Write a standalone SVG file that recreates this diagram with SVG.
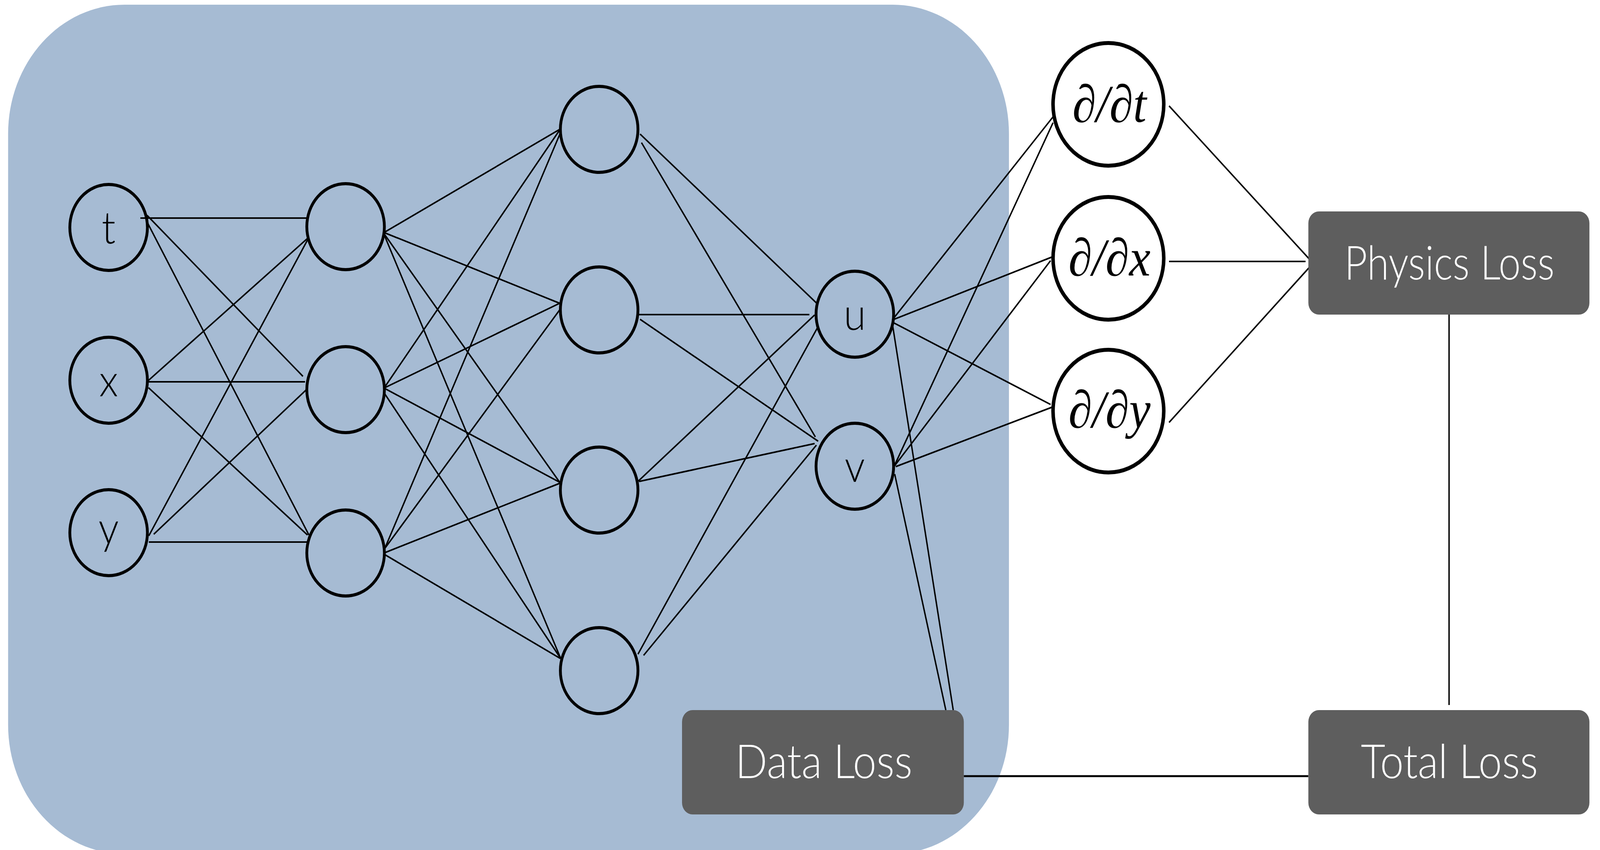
<svg xmlns="http://www.w3.org/2000/svg" width="4537" height="2175" viewBox="0 0 4537 2175" preserveAspectRatio="none">
<style>
svg{width:100vw;height:100vh;display:block}
.n{fill:none;stroke:#000;stroke-width:8}
.d{fill:#fff;stroke:#000;stroke-width:10}
.c line{stroke:#000;stroke-width:4}
.lbl{font-family:Lato,"Open Sans","Liberation Sans",sans-serif;font-weight:300;font-size:115px;fill:#000;text-anchor:middle}
.pd{font-family:"Liberation Serif","Times New Roman",serif;font-style:italic;font-size:136px;fill:#000;text-anchor:middle}
.box{fill:#5e5e5e}
.bt{font-family:Lato,"Open Sans","Liberation Sans",sans-serif;font-weight:300;font-size:120px;fill:#fff;text-anchor:middle}
</style>
<rect id="network-bg" x="23" y="12" width="2838" height="2173" rx="330" ry="330" fill="#a6bbd3"/>
<g id="connectors" class="c">
<line x1="398" y1="558" x2="870" y2="558"/>
<line x1="417" y1="551" x2="859" y2="963"/>
<line x1="417" y1="568" x2="876" y2="1369"/>
<line x1="419" y1="975" x2="872" y2="610"/>
<line x1="419" y1="977" x2="865" y2="977"/>
<line x1="421" y1="992" x2="872" y2="1369"/>
<line x1="422" y1="1371" x2="872" y2="614"/>
<line x1="436" y1="1367" x2="869" y2="997"/>
<line x1="422" y1="1387" x2="872" y2="1387"/>
<line x1="1089" y1="595" x2="1589" y2="330"/>
<line x1="1089" y1="595" x2="1587" y2="776"/>
<line x1="1089" y1="598" x2="1587" y2="1234"/>
<line x1="1089" y1="600" x2="1590" y2="1685"/>
<line x1="1089" y1="993" x2="1589" y2="330"/>
<line x1="1089" y1="993" x2="1587" y2="776"/>
<line x1="1089" y1="993" x2="1587" y2="1234"/>
<line x1="1089" y1="1005" x2="1590" y2="1685"/>
<line x1="1089" y1="1408" x2="1589" y2="340"/>
<line x1="1089" y1="1406" x2="1587" y2="793"/>
<line x1="1089" y1="1415" x2="1589" y2="1236"/>
<line x1="1089" y1="1418" x2="1589" y2="1685"/>
<line x1="1815" y1="343" x2="2316" y2="776"/>
<line x1="1819" y1="365" x2="2312" y2="1118"/>
<line x1="1810" y1="805" x2="2295" y2="805"/>
<line x1="1815" y1="817" x2="2320" y2="1129"/>
<line x1="1810" y1="1231" x2="2310" y2="806"/>
<line x1="1812" y1="1232" x2="2310" y2="1135"/>
<line x1="1809" y1="1674" x2="2319" y2="837"/>
<line x1="1825" y1="1677" x2="2315" y2="1139"/>
<line x1="2530" y1="819" x2="2986" y2="299"/>
<line x1="2530" y1="819" x2="2982" y2="658"/>
<line x1="2532" y1="825" x2="2979" y2="1035"/>
<line x1="2535" y1="1194" x2="2986" y2="314"/>
<line x1="2535" y1="1194" x2="2979" y2="667"/>
<line x1="2540" y1="1194" x2="2983" y2="1042"/>
<line x1="2530" y1="826" x2="2703" y2="1817"/>
<line x1="2537" y1="1213" x2="2682" y2="1817"/>
<line x1="3315" y1="271" x2="3721" y2="671"/>
<line x1="3315" y1="669" x2="3702" y2="669"/>
<line x1="3315" y1="1081" x2="3721" y2="676"/>
<line x1="2733" y1="1986" x2="3710" y2="1986" style="stroke-width:5"/>
<line x1="4109" y1="797" x2="4109" y2="1804"/>
</g>
<g id="node-t"><circle class="n" cx="308" cy="582" r="110"/><text class="lbl" x="308" y="623">t</text></g>
<g id="node-x"><circle class="n" cx="308" cy="973" r="110"/><text class="lbl" x="308" y="1014">x</text></g>
<g id="node-y"><circle class="n" cx="308" cy="1363" r="110"/><text class="lbl" x="308" y="1392">y</text></g>
<g id="h1-1"><circle class="n" cx="980" cy="580" r="110"/></g>
<g id="h1-2"><circle class="n" cx="980" cy="997" r="110"/></g>
<g id="h1-3"><circle class="n" cx="980" cy="1415" r="110"/></g>
<g id="h2-1"><circle class="n" cx="1699" cy="331" r="110"/></g>
<g id="h2-2"><circle class="n" cx="1699" cy="793" r="110"/></g>
<g id="h2-3"><circle class="n" cx="1699" cy="1254" r="110"/></g>
<g id="h2-4"><circle class="n" cx="1699" cy="1716" r="110"/></g>
<g id="node-u"><circle class="n" cx="2424" cy="804" r="110"/><text class="lbl" x="2424" y="844">u</text></g>
<g id="node-v"><circle class="n" cx="2424" cy="1193" r="110"/><text class="lbl" x="2424" y="1233">v</text></g>
<g id="d-t"><circle class="d" cx="3143" cy="267" r="157"/><text class="pd" x="3146" y="312">∂/∂t</text></g>
<g id="d-x"><circle class="d" cx="3143" cy="661" r="157"/><text class="pd" x="3146" y="705">∂/∂x</text></g>
<g id="d-y"><circle class="d" cx="3143" cy="1052" r="157"/><text class="pd" x="3146" y="1094">∂/∂y</text></g>
<g id="physics-loss"><rect class="box" x="3710" y="541" width="797" height="264" rx="30"/><text class="bt" x="4110" y="715" textLength="596" lengthAdjust="spacingAndGlyphs">Physics Loss</text></g>
<g id="data-loss"><rect class="box" x="1934" y="1817" width="799" height="267" rx="30"/><text class="bt" x="2336" y="1991">Data Loss</text></g>
<g id="total-loss"><rect class="box" x="3710" y="1817" width="797" height="267" rx="30"/><text class="bt" x="4110" y="1991">Total Loss</text></g>
</svg>
